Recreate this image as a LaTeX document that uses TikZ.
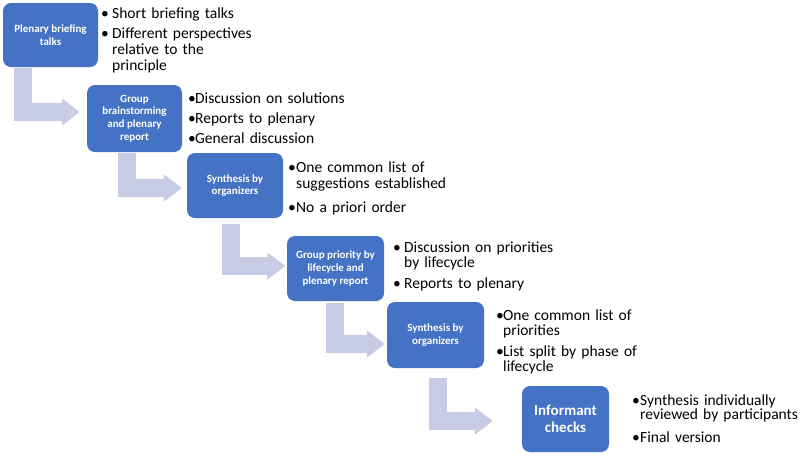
\documentclass[tikz,border=0pt]{standalone}
\usepackage{fontspec}
\setmainfont{Carlito}
\usetikzlibrary{arrows.meta,calc}
\definecolor{boxblue}{HTML}{4472C4}
\definecolor{arrowc}{HTML}{C7CCE4}
\newcommand\blt[1]{\makebox[#1][l]{•}}
\newcommand\ind[1]{\hspace*{#1}}
\begin{document}
\begin{tikzpicture}[x=1pt,y=-1pt,
  stage/.style={rectangle, rounded corners=8pt, fill=boxblue, text=white,
    font=\bfseries\fontsize{11}{12.8}\selectfont, align=center, inner sep=2pt},
  notes/.style={anchor=base west, inner sep=0pt, text width=260pt, align=left, text=black},
  flow/.style={draw=arrowc, line width=18pt, line cap=butt,
    -{Triangle[length=18pt,width=26pt]}}]
\useasboundingbox[fill=white] (0,0) rectangle (800,456);

% stages
\node[stage, minimum width=95pt, minimum height=64pt] (b1) at (50.5,35) {Plenary briefing\\talks};
\node[stage, minimum width=95pt, minimum height=67pt] (b2) at (134.5,118.5) {Group\\brainstorming\\and plenary\\report};
\node[stage, minimum width=96pt, minimum height=65pt] (b3) at (235,185.5) {Synthesis by\\organizers};
\node[stage, minimum width=97pt, minimum height=65pt] (b4) at (335.5,268.5) {Group priority by\\lifecycle and\\plenary report};
\node[stage, minimum width=97pt, minimum height=66pt] (b5) at (435.5,335) {Synthesis by\\organizers};
\node[stage, minimum width=87pt, minimum height=66pt,
  font=\bfseries\fontsize{15}{16.5}\selectfont] (b6) at (565.5,419) {Informant\\checks};

% bent arrows
\draw[flow] ($(b1.south west)+(20.5,1)$) |- ($(b2.west)+(-7,-6.5)$);
\draw[flow] ($(b2.south west)+(40,1)$) |- ($(b3.west)+(-5,2.5)$);
\draw[flow] ($(b3.south west)+(44,6)$) |- ($(b4.west)+(-1.5,-2.5)$);
\draw[flow] ($(b4.south west)+(48,2)$) |- ($(b5.west)+(-2,9)$);
\draw[flow] ($(b5.south west)+(51,10)$) |- ($(b6.west)+(-29,2)$);

% notes
\node[notes, font=\fontsize{15.5}{16}\selectfont] (t1) at (101,18)
  {\blt{11pt}Short briefing talks\\[4pt]\blt{11pt}Different perspectives\\\ind{11pt}relative to the\\\ind{11pt}principle};
\node[notes, font=\fontsize{15.5}{16}\selectfont] (t2) at (188,103)
  {\blt{7pt}Discussion on solutions\\[4pt]\blt{7pt}Reports to plenary\\[4pt]\blt{7pt}General discussion};
\node[notes, font=\fontsize{15.5}{16}\selectfont] (t3) at (288,172)
  {\blt{8pt}One common list of\\\ind{8pt}suggestions established\\[8pt]\blt{8pt}No a priori order};
\node[notes, font=\fontsize{15.5}{15}\selectfont] (t4) at (393,252)
  {\blt{11pt}Discussion on priorities\\\ind{11pt}by lifecycle\\[6pt]\blt{11pt}Reports to plenary};
\node[notes, font=\fontsize{15.5}{15.5}\selectfont] (t5) at (496,320)
  {\blt{7pt}One common list of\\\ind{7pt}priorities\\[5pt]\blt{7pt}List split by phase of\\\ind{7pt}lifecycle};
\node[notes, font=\fontsize{15.5}{14.5}\selectfont] (t6) at (632,405)
  {\blt{8pt}Synthesis individually\\\ind{8pt}reviewed by participants\\[8pt]\blt{8pt}Final version};
\end{tikzpicture}
\end{document}
